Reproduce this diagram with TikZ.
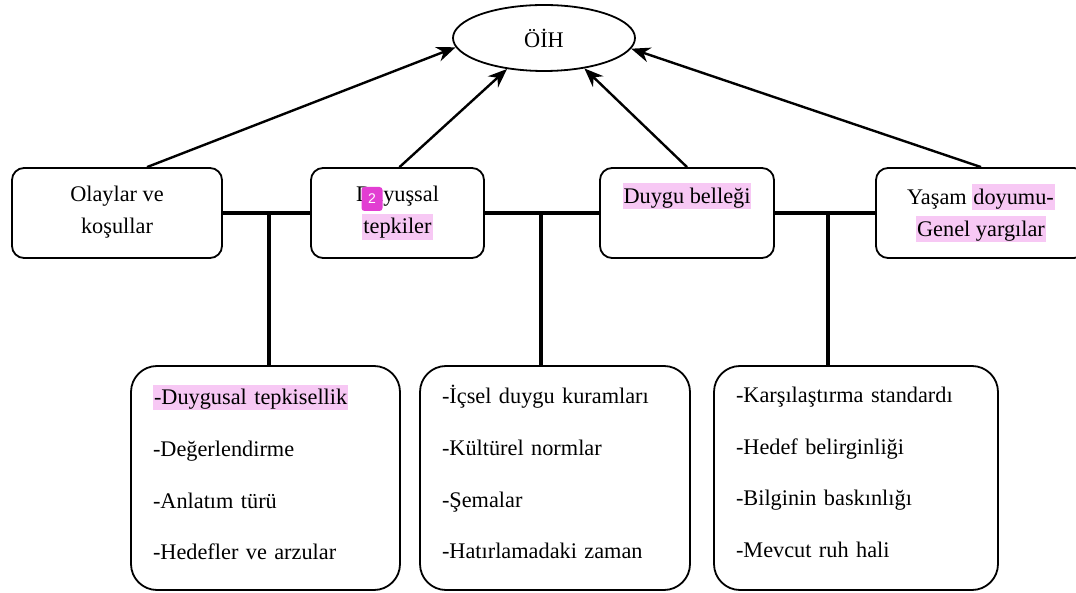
\documentclass[tikz,border=0pt]{standalone}
\usepackage{fontspec}
\setmainfont{Liberation Serif}
\setsansfont{Liberation Sans}
\usetikzlibrary{positioning, arrows.meta, shapes.geometric, calc}
\definecolor{hlpink}{RGB}{247,200,244}
\definecolor{badgepink}{RGB}{226,62,210}
\newcommand{\hl}[1]{{\setlength{\fboxsep}{1pt}\colorbox{hlpink}{\vphantom{Ĝy}#1}}}

\begin{document}
\begin{tikzpicture}[
            x=1pt, y=-1pt,
            >={Stealth[length=19pt, width=15pt]},
            head/.style={ellipse, draw, line width=1.8pt, minimum width=182pt, minimum height=66pt, inner sep=0pt, font=\fontsize{22.3}{32}\selectfont},
            factor/.style={rectangle, draw, line width=1.8pt, rounded corners=12pt, minimum height=90pt, align=center, font=\fontsize{22.3}{32}\selectfont},
            listbox/.style={rectangle, draw, line width=1.8pt, rounded corners=26pt, minimum height=224pt, inner xsep=22pt, align=left, font=\fontsize{22.3}{51.7}\selectfont},
            link/.style={line width=4pt},
            arrow/.style={->, line width=2.4pt},
            badge/.style={rectangle, fill=badgepink, rounded corners=3pt, text=white, minimum width=21pt, minimum height=24pt, inner sep=0pt, font=\sffamily\fontsize{14}{14}\selectfont},
        ]
            \clip (0,0) rectangle (1076,593);

            % Draw the top node
            \node[head] (oih) at (544,38) {ÖİH};

            % Draw the factor nodes
            \node[factor, minimum width=210pt] (olay) at (117,213) {Olaylar ve\\koşullar\\[-26pt]\mbox{}};
            \node[factor, minimum width=173pt] (duyus) at (397.5,213) {Duyuşsal\\\hl{tepkiler}\\[-26pt]\mbox{}};
            \node[factor, minimum width=174pt] (bellek) at (687,213) {\hl{Duygu belleği}\\~\\[-24pt]\mbox{}};
            \node[factor, minimum width=210pt] (yasam) at (981,213) {Yaşam \hl{doyumu-}\\\hl{Genel yargılar}\\[-26pt]\mbox{}};
            \node[badge] (note) at (372,199) {2};

            % Draw the list nodes
            \node[listbox, text width=225pt] (kisi) at (265.5,478) {\hl{-Duygusal tepkisellik}\\-Değerlendirme\\-Anlatım türü\\-Hedefler ve arzular\\[-40pt]\mbox{}};
            \node[listbox, text width=226pt] (kultur) at (555,478) {-İçsel duygu kuramları\\-Kültürel normlar\\-Şemalar\\-Hatırlamadaki zaman\\[-40pt]\mbox{}};
            \node[listbox, text width=240pt] (yargi) at (856,478) {-Karşılaştırma standardı\\-Hedef belirginliği\\-Bilginin baskınlığı\\-Mevcut ruh hali\\[-40pt]\mbox{}};

            % Connect the factor nodes with each other and with the lists
            \draw[link] (olay.east) -- (duyus.west);
            \draw[link] (duyus.east) -- (bellek.west);
            \draw[link] (bellek.east) -- (yasam.west);
            \coordinate (j-1) at (269,213);
            \coordinate (j-2) at (541,213);
            \coordinate (j-3) at (828,213);
            \draw[link] (j-1) -- (j-1 |- kisi.north);
            \draw[link] (j-2) -- (j-2 |- kultur.north);
            \draw[link] (j-3) -- (j-3 |- yargi.north);

            % Connect every factor node with the top node
            \draw[arrow] ([xshift=30pt]olay.north) -- (oih.186);
            \draw[arrow] ([xshift=2pt]duyus.north) -- (oih.220);
            \draw[arrow] (bellek.north) -- (oih.323);
            \draw[arrow] (yasam.north) -- (oih.353);
        \end{tikzpicture}
\end{document}
